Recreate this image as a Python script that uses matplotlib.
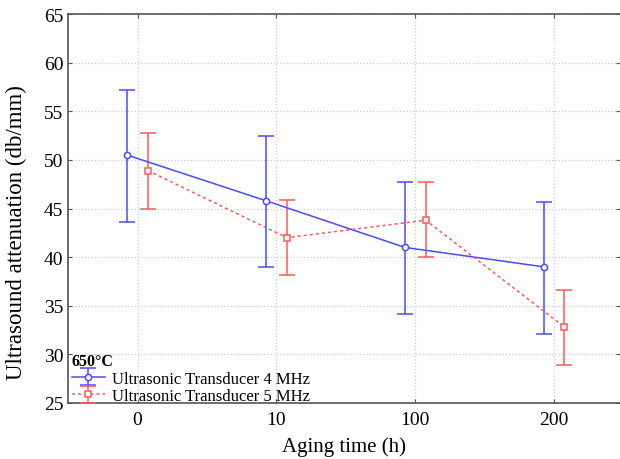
import numpy as np
import matplotlib
matplotlib.use("Agg")
import matplotlib.pyplot as plt

# ── data ─────────────────────────────────────────────────────────────────────
ticks = ["0", "10", "100", "200"]

mean_4mhz = [50.5, 45.8, 41.0, 39.0]
low_4mhz  = [43.6, 39.0, 34.1, 32.1]
high_4mhz = [57.2, 52.5, 47.7, 45.7]

mean_5mhz = [48.9, 42.0, 43.8, 32.8]
low_5mhz  = [45.0, 38.2, 40.0, 28.9]
high_5mhz = [52.8, 45.9, 47.7, 36.6]

BLUE = "#4a4aff"
RED  = "#ff5a5a"

plt.rcParams["font.family"] = ["Liberation Serif", "DejaVu Serif"]

fig = plt.figure(figsize=(6.2, 4.6), dpi=100)
ax = fig.add_axes([0.110, 0.122, 0.890, 0.845])

x = np.arange(len(ticks))
off = 0.075

m4 = np.array(mean_4mhz)
m5 = np.array(mean_5mhz)
err4 = [m4 - np.array(low_4mhz), np.array(high_4mhz) - m4]
err5 = [m5 - np.array(low_5mhz), np.array(high_5mhz) - m5]

ax.errorbar(x - off, m4, yerr=err4, color=BLUE, lw=1.1, ls="-",
            marker="o", ms=4.5, mfc="white", mec=BLUE, mew=1.1,
            capsize=6, capthick=1.1, elinewidth=1.1,
            label="Ultrasonic Transducer 4 MHz")
ax.errorbar(x + off, m5, yerr=err5, color=RED, lw=1.1, ls=(0, (2, 2)),
            marker="s", ms=4.5, mfc="white", mec=RED, mew=1.1,
            capsize=6, capthick=1.1, elinewidth=1.1,
            label="Ultrasonic Transducer 5 MHz")

ax.set_xlim(-0.5, 3.475)
ax.set_ylim(25, 65)
ax.set_xticks(x)
ax.set_xticklabels(ticks)
ax.set_yticks(np.arange(25, 66, 5))
ax.tick_params(direction="in", length=3, labelsize=14, top=True, right=True,
               color="#555555")
ax.tick_params(axis="x", pad=6)
ax.grid(color="#cccccc", ls=":", lw=0.9)
ax.set_axisbelow(True)
for s in ax.spines.values():
    s.set_edgecolor("#555555")
    s.set_linewidth(1.2)
ax.spines["right"].set_visible(False)

ax.set_xlabel("Aging time (h)", fontsize=15, labelpad=6)
ax.set_ylabel("Ultrasound attenuation (db/mm)", fontsize=16.5)
ax.yaxis.set_label_coords(-0.074, 0.44)

leg = ax.legend(loc="lower left", bbox_to_anchor=(0.003, -0.008),
                title="650°C", frameon=False, fontsize=12,
                handlelength=2.0, handletextpad=0.4, labelspacing=0.1,
                borderaxespad=0.0, borderpad=0.1,
                title_fontproperties={"weight": "bold", "size": 11.5})
leg._legend_box.align = "left"

fig.savefig("out.png", dpi=100)
